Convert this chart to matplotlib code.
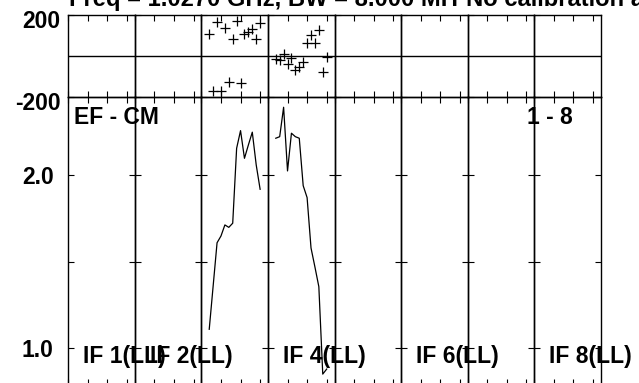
import matplotlib
matplotlib.use("Agg")
import matplotlib.pyplot as plt
import matplotlib.transforms as mtransforms
import numpy as np

plt.rcParams['font.family'] = ['Liberation Sans', 'DejaVu Sans']
plt.rcParams['font.weight'] = 'bold'

# ---------------- data ----------------
n_if = 8
chan_span = 17
channels = [2, 3, 4, 5, 6, 7, 8, 9, 10, 11, 12, 13, 14, 15]

# phase (deg) per IF, only IF 3 and IF 4 have data
phase_if3 = [107, -172, 167, -172, 138, -128, 81, 171, -134, 107, 118, 130, 82, 159]
phase_if4 = [-17, -20, 8, -41, -12, -69, -56, -29, 61, 102, 64, 127, -78, -4]

# amplitude per IF
amp_if3 = [1.110, 1.360, 1.610, 1.649, 1.713, 1.699, 1.723, 2.156, 2.258, 2.098,
           2.175, 2.249, 2.060, 1.919]
amp_if4 = [2.214, 2.223, 2.393, 2.025, 2.243, 2.223, 2.214, 1.940, 1.871, 1.580,
           1.470, 1.356, 0.851, 0.880]

phase_data = {3: phase_if3, 4: phase_if4}
amp_data = {3: amp_if3, 4: amp_if4}

if_labels = {1: "IF 1(LL)", 2: "IF 2(LL)", 4: "IF 4(LL)", 6: "IF 6(LL)", 8: "IF 8(LL)"}
title_text = "Freq = 1.0270 GHz, BW = 8.000 MH"
title_text2 = "No calibration applied"
src_text = "EF - CM"
range_text = "1 - 8"

phase_ticks = [-200, 200]
phase_ticklabels = ["-200", "200"]
amp_ticks = [1.0, 1.5, 2.0]
amp_ticklabels = ["1.0", "", "2.0"]
x_ticks = [0, 5, 10, 15]

# ---------------- layout ----------------
W, H = 639, 383
fig = plt.figure(figsize=(W / 100, H / 100), dpi=100)

left_px, right_px = 68.3, 600.7
top1_px, mid_px, bot_px = 15.0, 96.7, 385.0
pw = (right_px - left_px) / n_if

FS = 16.5
lw_sp = 1.0

def fx(px):
    return px / W

def fy(py):
    return 1 - py / H

def ay2(py):
    return (bot_px - py) / (bot_px - mid_px)

for i in range(n_if):
    ifn = i + 1
    x0 = left_px + i * pw
    ax1 = fig.add_axes([fx(x0), fy(mid_px), pw / W, (mid_px - top1_px) / H])
    ax2 = fig.add_axes([fx(x0), fy(bot_px), pw / W, (bot_px - mid_px) / H])
    for ax in (ax1, ax2):
        ax.set_facecolor('none')
        ax.set_xlim(0, chan_span)
        ax.set_xticks(x_ticks)
        ax.set_xticklabels([])
        ax.tick_params(axis='both', direction='in', length=4.5, width=0.8,
                       top=True, bottom=True, left=True, right=True,
                       labelbottom=False, colors='black')
        for s in ax.spines.values():
            s.set_linewidth(lw_sp)
            s.set_color('black')
    ax1.set_ylim(-200, 200)
    ax1.set_yticks(phase_ticks)
    ax1.axhline(0, color='black', lw=1.0)
    ax2.set_ylim(0.788, 2.454)
    ax2.set_yticks(amp_ticks)

    if ifn in phase_data:
        ax1.plot(channels, phase_data[ifn], linestyle='none', marker='+',
                 markersize=6.5, markeredgewidth=0.9, color='black', clip_on=False)
    if ifn in amp_data:
        ax2.plot(channels, amp_data[ifn], color='black', lw=0.9)

    if ifn in if_labels:
        ax2.text(15 / pw, ay2(363), if_labels[ifn],
                 transform=ax2.transAxes, ha='left', va='baseline',
                 fontsize=FS, fontweight='bold', clip_on=False, zorder=1)

    if i == 0:
        ax1.set_yticklabels(phase_ticklabels, fontsize=FS, fontweight='bold')
        ax1.tick_params(axis='y', pad=5.5)
        off = mtransforms.ScaledTranslation(0, -4 / 100, fig.dpi_scale_trans)
        for lab in ax1.get_yticklabels():
            lab.set_transform(lab.get_transform() + off)
        ax2.set_yticklabels(amp_ticklabels, fontsize=FS, fontweight='bold')
        ax2.tick_params(axis='y', pad=10.5)
        ax2.text(6 / pw, ay2(124), src_text,
                 transform=ax2.transAxes, ha='left', va='baseline',
                 fontsize=FS, fontweight='bold', clip_on=False, zorder=1)
    else:
        ax1.set_yticklabels([])
        ax2.set_yticklabels([])
    if ifn == 7:
        ax2.text((527 - x0) / pw, ay2(124), range_text,
                 transform=ax2.transAxes, ha='left', va='baseline',
                 fontsize=FS, fontweight='bold', clip_on=False, zorder=1)

fig.text(fx(69), fy(6), title_text, ha='left', va='baseline',
         fontsize=17.1, fontweight='bold')
fig.text(fx(466), fy(6), title_text2, ha='left', va='baseline',
         fontsize=17.1, fontweight='bold')

fig.savefig("out.png", dpi=100)
